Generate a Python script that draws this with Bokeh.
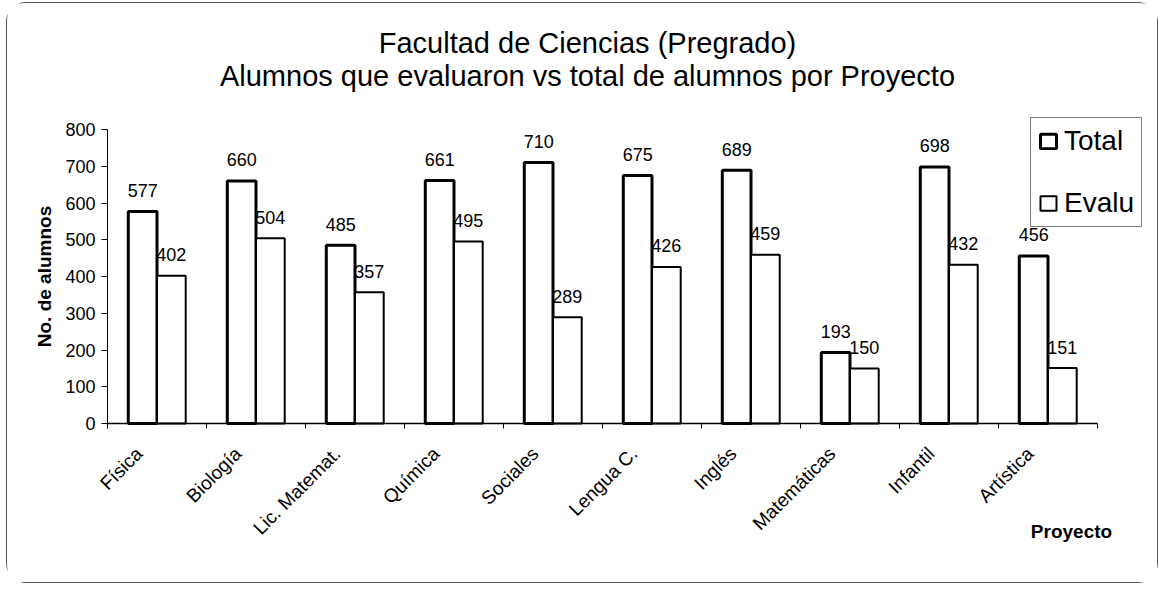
import math
import numpy as np
from bokeh.plotting import figure
from bokeh.models import (ColumnDataSource, FixedTicker, Legend, LegendItem,
                          Label, Range1d)
from bokeh.core.properties import value
from bokeh.embed import file_html
from bokeh.resources import INLINE

categories = ["Física", "Biología", "Lic. Matemat.", "Química", "Sociales",
              "Lengua C.", "Inglés", "Matemáticas", "Infantil", "Artística"]
total = [577, 660, 485, 661, 710, 675, 689, 193, 698, 456]
evalu = [402, 504, 357, 495, 289, 426, 459, 150, 432, 151]
y_ticks = [0, 100, 200, 300, 400, 500, 600, 700, 800]
series_names = ["Total", "Evalu"]
title_lines = ["Facultad de Ciencias (Pregrado)",
               "Alumnos que evaluaron vs total de alumnos por Proyecto"]
y_label = "No. de alumnos"
x_label = "Proyecto"

FONT = "Liberation Sans"
n = len(categories)
idx = np.arange(n)
centers = idx + 0.5
bw = 0.29
label_shift = -0.18  # rotated labels sit slightly left of the category centre

# ---- layout (pixels inside the figure canvas) ----
W, H = 1152, 581
AX_LEFT, AX_RIGHT = 100, 1090     # x = 0 .. n
AX_BOTTOM, AX_TOP = 420, 126      # y = 0 .. top tick
px_x = (AX_RIGHT - AX_LEFT) / n
px_y = (AX_BOTTOM - AX_TOP) / y_ticks[-1]
def dx(px):  # canvas pixel -> data x
    return (px - AX_LEFT) / px_x
def dy(py):  # canvas pixel -> data y
    return (AX_BOTTOM - py) / px_y

src = ColumnDataSource(dict(
    xt=centers - bw / 2, xe=centers + bw / 2,
    total=total, evalu=evalu,
    lt=[str(v) for v in total], le=[str(v) for v in evalu],
))

# the plotting frame covers the whole canvas; axes are pinned at 0 inside it
p = figure(width=W, height=H, x_range=Range1d(dx(0), dx(W)),
           y_range=Range1d(dy(H), dy(0)),
           output_backend="svg", toolbar_location=None,
           min_border_left=0, min_border_right=0,
           min_border_top=0, min_border_bottom=0)
p.styles = {"border": "1px solid #555", "border-radius": "20px",
            "margin": "2px 0 0 6px"}
p.xgrid.visible = False
p.ygrid.visible = False
p.outline_line_color = None
p.background_fill_color = "white"

rt = p.vbar(x="xt", top="total", bottom=0, width=bw, fill_color="white",
            line_color="black", line_width=3, source=src)
re_ = p.vbar(x="xe", top="evalu", bottom=0, width=bw, fill_color="white",
             line_color="black", line_width=2, source=src)

for xcol, ycol, tcol in [("xt", "total", "lt"), ("xe", "evalu", "le")]:
    p.text(x=xcol, y=ycol, text=tcol, source=src, text_align="center",
           text_baseline="alphabetic", y_offset=-21,
           text_font=value(FONT), text_font_size="18px", text_color="black")

label_pos = centers + label_shift
xa = p.xaxis[0]
xa.fixed_location = 0
xa.bounds = (0, n)
xa.ticker = FixedTicker(ticks=list(label_pos), minor_ticks=list(range(n + 1)))
xa.major_label_overrides = {float(c): name for c, name in zip(label_pos, categories)}
xa.major_tick_out = 0
xa.major_tick_in = 0
xa.minor_tick_out = 5
xa.minor_tick_in = 0
xa.minor_tick_line_color = "black"
xa.major_label_orientation = math.pi / 4
xa.major_label_text_font = FONT
xa.major_label_text_font_size = "19px"
xa.major_label_text_color = "black"
xa.major_label_standoff = 22
xa.axis_line_color = "black"
xa.axis_line_width = 1.5

ya = p.yaxis[0]
ya.fixed_location = 0
ya.bounds = (0, y_ticks[-1])
ya.ticker = FixedTicker(ticks=y_ticks)
ya.major_tick_out = 6
ya.major_tick_in = 0
ya.minor_tick_out = 0
ya.minor_tick_in = 0
ya.major_tick_line_color = "black"
ya.major_label_text_font = FONT
ya.major_label_text_font_size = "18px"
ya.major_label_text_color = "black"
ya.major_label_standoff = 6
ya.axis_label = y_label
ya.axis_label_text_font = FONT
ya.axis_label_text_font_style = "bold"
ya.axis_label_text_font_size = "19px"
ya.axis_label_text_color = "black"
ya.axis_label_standoff = 7
ya.axis_line_color = "black"

for txt, py in [(title_lines[0], 39), (title_lines[1], 72)]:
    p.add_layout(Label(x=dx(580), y=dy(py), text=txt, text_align="center",
                       text_baseline="middle", text_font=FONT,
                       text_font_size="29px", text_color="black"))

p.add_layout(Label(x=dx(1064), y=dy(528), text=x_label, text_align="center",
                   text_baseline="middle", text_font=FONT,
                   text_font_size="19px", text_font_style="bold",
                   text_color="black"))

legend = Legend(items=[LegendItem(label=series_names[0], renderers=[rt]),
                       LegendItem(label=series_names[1], renderers=[re_])],
                location=(1023, H - 224), label_text_font=FONT,
                label_text_font_size="28px", label_text_color="black",
                border_line_color="black",
                border_line_width=1, background_fill_color="white",
                background_fill_alpha=1.0,
                glyph_width=20, glyph_height=18, spacing=30, padding=7,
                margin=0, label_standoff=6)
p.add_layout(legend, "center")

open("out.html", "w").write(file_html(p, INLINE))
